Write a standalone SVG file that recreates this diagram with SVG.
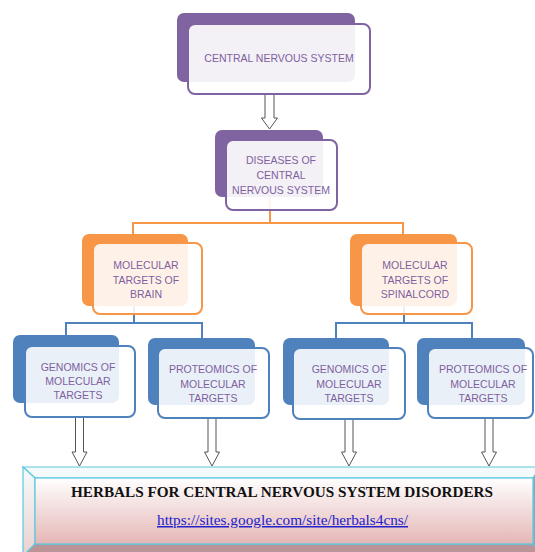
<svg xmlns="http://www.w3.org/2000/svg" width="535" height="552" viewBox="0 0 535 552">
<defs>
<style>
.bp{fill:#8064A2}
.bo{fill:#F79646}
.bb{fill:#4F81BD}
.fp{fill:#fff;fill-opacity:0.9;stroke:#8064A2;stroke-width:2}
.fo{fill:#fff;fill-opacity:0.88;stroke:#F79646;stroke-width:2}
.fb{fill:#fff;fill-opacity:0.88;stroke:#4F81BD;stroke-width:2}
.lbl{font-family:"Liberation Sans",Arial,sans-serif;font-size:10.5px;fill:#7F5FA0;text-anchor:middle}
.co{fill:none;stroke:#F79646;stroke-width:2}
.cb{fill:none;stroke:#4F81BD;stroke-width:2}
.ar{fill:#fff;stroke:#555;stroke-width:1}
.bev{stroke:#5BC8DE;stroke-width:1.2}
</style>
<linearGradient id="face" x1="0" y1="0" x2="0" y2="1">
<stop offset="0" stop-color="#FFFFFF"/>
<stop offset="1" stop-color="#E4B6B5"/>
</linearGradient>
<linearGradient id="lbev" x1="0" y1="0" x2="0" y2="1">
<stop offset="0" stop-color="#F6FBFC"/>
<stop offset="1" stop-color="#EAD0D0"/>
</linearGradient>
</defs>
<rect width="535" height="552" fill="#fff"/>

<g id="connectors">
<path class="co" d="M270,197 V223 M133,223 H403 M133,222 V234 M403,222 V234"/>
<path class="cb" d="M134,306 V323 M66,323 H202 M66,322 V336 M202,322 V338"/>
<path class="cb" d="M404,306 V323 M336,323 H472 M336,322 V338 M472,322 V338"/>
<path class="ar" d="M265,94 H274 V118 H277.5 L269.5,129 L261.5,118 H265 Z"/>
<path class="ar" d="M75.5,417 H83.5 V452 H87 L79.5,466 L72,452 H75.5 Z"/>
<path class="ar" d="M208,418 H216 V452 H219.5 L212,466 L204.5,452 H208 Z"/>
<path class="ar" d="M345,419 H353 V452 H356.5 L349,466 L341.5,452 H345 Z"/>
<path class="ar" d="M485,418 H493 V452 H496.5 L489,466 L481.5,452 H485 Z"/>
</g>

<g id="n-cns">
<rect class="bp" x="177" y="13" width="178" height="69" rx="7"/>
<rect class="fp" x="188" y="24" width="182" height="70" rx="7"/>
<text class="lbl" x="279" y="62">CENTRAL NERVOUS SYSTEM</text>
</g>

<g id="n-diseases">
<rect class="bp" x="215" y="130" width="108" height="67" rx="7"/>
<rect class="fp" x="226" y="140" width="111" height="70" rx="7"/>
<text class="lbl" x="281" y="164">DISEASES OF</text>
<text class="lbl" x="281" y="179">CENTRAL</text>
<text class="lbl" x="281" y="194">NERVOUS SYSTEM</text>
</g>

<g id="n-brain">
<rect class="bo" x="82" y="234" width="106" height="72" rx="7"/>
<rect class="fo" x="93" y="243" width="109" height="71" rx="7"/>
<text class="lbl" x="146" y="269">MOLECULAR</text>
<text class="lbl" x="146" y="284">TARGETS OF</text>
<text class="lbl" x="146" y="298">BRAIN</text>
</g>

<g id="n-spinal">
<rect class="bo" x="350" y="234" width="107" height="72" rx="7"/>
<rect class="fo" x="361" y="243" width="111" height="71" rx="7"/>
<text class="lbl" x="415" y="269">MOLECULAR</text>
<text class="lbl" x="415" y="284">TARGETS OF</text>
<text class="lbl" x="415" y="298">SPINALCORD</text>
</g>

<g id="n-gen-left">
<rect class="bb" x="13" y="335" width="106" height="68" rx="7"/>
<rect class="fb" x="25" y="346" width="110" height="71" rx="7"/>
<text class="lbl" x="78" y="371">GENOMICS OF</text>
<text class="lbl" x="78" y="385">MOLECULAR</text>
<text class="lbl" x="78" y="399">TARGETS</text>
</g>

<g id="n-prot-left">
<rect class="bb" x="148" y="338" width="107" height="67" rx="7"/>
<rect class="fb" x="158" y="348" width="111" height="70" rx="7"/>
<text class="lbl" x="213" y="373">PROTEOMICS OF</text>
<text class="lbl" x="213" y="388">MOLECULAR</text>
<text class="lbl" x="213" y="402">TARGETS</text>
</g>

<g id="n-gen-right">
<rect class="bb" x="283" y="338" width="106" height="67" rx="7"/>
<rect class="fb" x="293" y="348" width="112" height="71" rx="7"/>
<text class="lbl" x="349" y="373">GENOMICS OF</text>
<text class="lbl" x="349" y="388">MOLECULAR</text>
<text class="lbl" x="349" y="402">TARGETS</text>
</g>

<g id="n-prot-right">
<rect class="bb" x="417" y="338" width="108" height="67" rx="7"/>
<rect class="fb" x="428" y="348" width="105" height="70" rx="7"/>
<text class="lbl" x="483" y="373">PROTEOMICS OF</text>
<text class="lbl" x="483" y="388">MOLECULAR</text>
<text class="lbl" x="483" y="402">TARGETS</text>
</g>

<g id="n-herbals">
<polygon class="bev" points="23,467 541,467 533,478 35,478" fill="#F4FAFB"/>
<polygon class="bev" points="23,467 35,478 35,544 23,556" fill="url(#lbev)"/>
<polygon class="bev" points="541,467 533,478 533,544 541,556" fill="#8FA9B3"/>
<polygon class="bev" points="35,544 533,544 541,556 23,556" fill="#BB9498"/>
<rect class="bev" x="35" y="478" width="498" height="66" fill="url(#face)"/>
<text x="282" y="497" text-anchor="middle" textLength="422" lengthAdjust="spacingAndGlyphs" font-family="'Liberation Serif','Times New Roman',serif" font-size="15" font-weight="bold" fill="#111">HERBALS FOR CENTRAL NERVOUS SYSTEM DISORDERS</text>
<text x="282.5" y="525" text-anchor="middle" textLength="251" lengthAdjust="spacingAndGlyphs" font-family="'Liberation Serif','Times New Roman',serif" font-size="15" fill="#2222CC" text-decoration="underline">https://sites.google.com/site/herbals4cns/</text>
</g>
</svg>
